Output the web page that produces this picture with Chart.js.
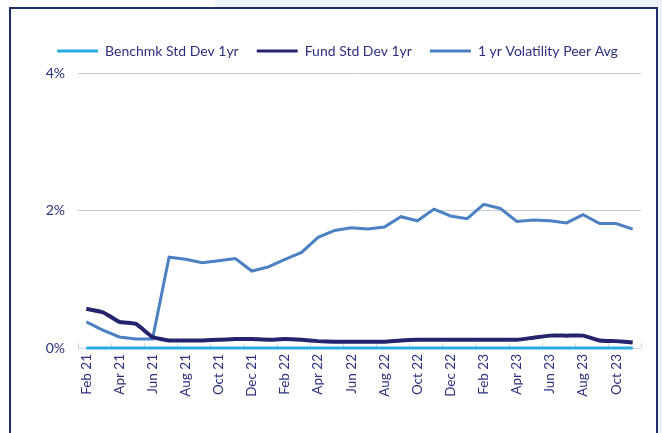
<!DOCTYPE html>
<html>
<head>
<meta charset="utf-8">
<script src="https://cdn.jsdelivr.net/npm/chart.js@4.4.1/dist/chart.umd.min.js"></script>
<style>
  html, body { margin: 0; padding: 0; background: #fff; }
  body { width: 662px; height: 433px; position: relative; overflow: hidden; }
  #bgShade {
    position: absolute; left: 0; top: 0; width: 662px; height: 433px;
    background: #edf1f9;
    clip-path: polygon(215px 0, 662px 0, 662px 433px, 240px 433px);
  }
  #frame {
    position: absolute; left: 9px; top: 7px; width: 645px; height: 460px;
    border: 2px solid #1f2d6d; background: #fff;
  }
  #wrap { position: absolute; left: 0; top: 0; width: 662px; height: 433px; }
</style>
</head>
<body>
<div id="bgShade"></div>
<div id="frame"></div>
<div id="wrap"><canvas id="volChart" width="662" height="433"></canvas></div>
<script>
const categories = [
    'Feb 21', 'Mar 21', 'Apr 21', 'May 21', 'Jun 21', 'Jul 21', 'Aug 21', 'Sep 21', 'Oct 21', 'Nov 21', 'Dec 21',
    'Jan 22', 'Feb 22', 'Mar 22', 'Apr 22', 'May 22', 'Jun 22', 'Jul 22', 'Aug 22', 'Sep 22', 'Oct 22', 'Nov 22', 'Dec 22',
    'Jan 23', 'Feb 23', 'Mar 23', 'Apr 23', 'May 23', 'Jun 23', 'Jul 23', 'Aug 23', 'Sep 23', 'Oct 23', 'Nov 23'
];
const xTickLabels = [
    'Feb 21', 'Apr 21', 'Jun 21', 'Aug 21', 'Oct 21', 'Dec 21', 'Feb 22', 'Apr 22', 'Jun 22',
    'Aug 22', 'Oct 22', 'Dec 22', 'Feb 23', 'Apr 23', 'Jun 23', 'Aug 23', 'Oct 23'
];
const yTicks = [0, 2, 4];

const benchmkStdDev = [
    0, 0, 0, 0, 0, 0, 0, 0, 0, 0, 0,
    0, 0, 0, 0, 0, 0, 0, 0, 0, 0, 0, 0,
    0, 0, 0, 0, 0, 0, 0, 0, 0, 0, 0
];
const fundStdDev = [
    0.57, 0.52, 0.38, 0.35, 0.16, 0.11, 0.11, 0.11, 0.12, 0.13, 0.13,
    0.12, 0.13, 0.12, 0.10, 0.09, 0.09, 0.09, 0.09, 0.11, 0.12, 0.12, 0.12,
    0.12, 0.12, 0.12, 0.12, 0.15, 0.18, 0.18, 0.18, 0.11, 0.10, 0.08
];
const peerAvgVol = [
    0.38, 0.26, 0.16, 0.13, 0.13, 1.32, 1.29, 1.24, 1.27, 1.30, 1.12,
    1.18, 1.29, 1.39, 1.61, 1.71, 1.75, 1.73, 1.76, 1.91, 1.85, 2.02, 1.92,
    1.88, 2.09, 2.03, 1.84, 1.86, 1.85, 1.82, 1.94, 1.81, 1.81, 1.73
];

const textColor = '#2b2f7f';
const fontFamily = 'Lato, "Open Sans", sans-serif';

// small upward tick marks on the category axis, one every two months
const insideTicks = {
    id: 'insideTicks',
    beforeDatasetsDraw(chart) {
        const x = chart.scales.x;
        const bottom = chart.chartArea.bottom;
        const ctx = chart.ctx;
        ctx.save();
        ctx.strokeStyle = '#c9d5ec';
        ctx.lineWidth = 1;
        ctx.beginPath();
        categories.forEach((c, i) => {
            if (!xTickLabels.includes(c)) return;
            const px = Math.round(x.getPixelForValue(i - 0.5)) + 0.5;
            ctx.moveTo(px, bottom - 5);
            ctx.lineTo(px, bottom);
        });
        const endX = Math.round(x.getPixelForValue(categories.length - 0.5)) + 0.5;
        ctx.moveTo(endX, bottom - 5);
        ctx.lineTo(endX, bottom);
        ctx.moveTo(x.left, bottom + 0.5);
        ctx.lineTo(x.right, bottom + 0.5);
        ctx.stroke();
        ctx.restore();
    }
};

// a bit more room under the legend
const legendGap = {
    id: 'legendGap',
    beforeUpdate(chart) {
        const lg = chart.legend;
        if (lg && !lg._gapPatched) {
            const origFit = lg.fit;
            lg.fit = function() {
                origFit.call(this);
                this.height += 5;
            };
            lg._gapPatched = true;
        }
    }
};

new Chart(document.getElementById('volChart').getContext('2d'), {
    type: 'line',
    data: {
        labels: categories,
        datasets: [
            {
                label: 'Benchmk Std Dev 1yr',
                data: benchmkStdDev,
                borderColor: '#29abe2',
                backgroundColor: '#29abe2',
                borderWidth: 3,
                pointRadius: 0,
                clip: 4,
                tension: 0
            },
            {
                label: 'Fund Std Dev 1yr',
                data: fundStdDev,
                borderColor: '#24246e',
                backgroundColor: '#24246e',
                borderWidth: 4,
                pointRadius: 0,
                tension: 0.15
            },
            {
                label: '1 yr Volatility Peer Avg',
                data: peerAvgVol,
                borderColor: '#4b80c3',
                backgroundColor: '#4b80c3',
                borderWidth: 3,
                pointRadius: 0,
                tension: 0
            }
        ]
    },
    options: {
        responsive: false,
        animation: false,
        layout: { padding: { left: 34, right: 21, top: 26, bottom: 0 } },
        plugins: {
            tooltip: { enabled: false },
            legend: {
                position: 'top',
                labels: {
                    color: textColor,
                    font: { family: fontFamily, size: 14 },
                    boxWidth: 41,
                    boxHeight: 3,
                    padding: 18,
                    generateLabels: function(chart) {
                        return chart.data.datasets.map((ds, i) => ({
                            text: ds.label,
                            fillStyle: ds.borderColor,
                            strokeStyle: ds.borderColor,
                            lineWidth: 0,
                            fontColor: textColor,
                            hidden: false,
                            datasetIndex: i
                        }));
                    }
                }
            }
        },
        scales: {
            x: {
                offset: true,
                grid: { display: false, drawTicks: false, offset: true },
                border: { display: false },
                ticks: {
                    autoSkip: false,
                    maxRotation: 90,
                    minRotation: 90,
                    padding: 6,
                    color: textColor,
                    font: { family: fontFamily, size: 13.5 },
                    callback: function(value, index) {
                        const lbl = categories[index];
                        return xTickLabels.includes(lbl) ? lbl : '';
                    }
                },
                afterFit: function(scale) { scale.height = 85; }
            },
            y: {
                min: yTicks[0],
                max: yTicks[yTicks.length - 1],
                afterBuildTicks: function(scale) {
                    scale.ticks = yTicks.map(v => ({ value: v }));
                },
                grid: {
                    drawTicks: false,
                    color: ctx => (ctx.tick && ctx.tick.value === 0) ? 'rgba(0,0,0,0)' : '#cccccc'
                },
                border: { display: false },
                ticks: {
                    padding: 13,
                    color: textColor,
                    font: { family: fontFamily, size: 14 },
                    callback: v => v + '%'
                },
                afterFit: function(scale) { scale.width = 44; }
            }
        }
    },
    plugins: [insideTicks, legendGap]
});
</script>
</body>
</html>
